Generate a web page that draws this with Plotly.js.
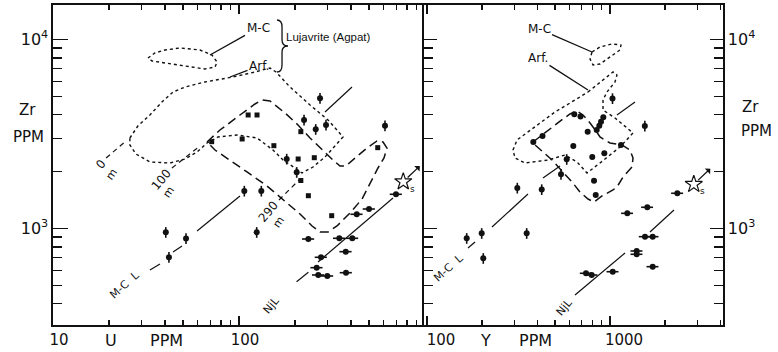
<!DOCTYPE html>
<html><head><meta charset="utf-8">
<script src="https://cdn.plot.ly/plotly-3.0.1.min.js"></script>
<style>html,body{margin:0;padding:0;background:#fff}</style>
</head><body>
<div id="chart" style="width:778px;height:352px"></div>
<script>
// ---------- LEFT PANEL: U (ppm) vs Zr (ppm) ----------
const leftSquareU  = [112, 125, 71.3, 104, 154, 215, 557, 208, 254, 215, 236, 315];
const leftSquareZr = [3986, 3986, 2880, 2976, 2743, 3253, 2677, 2332, 2369, 1795, 1491, 1169];
const leftVertU  = [272.6, 223.7, 293.6, 258.5, 609.4, 180.5, 204.3, 106.8, 131.8, 124.5, 40.4, 51.9, 42.0];
const leftVertZr = [4886, 3751, 3529, 3349, 3499, 2332, 1984, 1579, 1579, 954.8, 954.8, 885.1, 704.1];
const leftHorzU  = [429.4, 500.1, 698.5, 235.8, 346.1, 406.6, 374.8, 276, 261.6, 266.8, 298.4, 376.1];
const leftHorzZr = [1189, 1268, 1517, 879.7, 887.5, 887.5, 753.9, 704.1, 620.3, 567.5, 560.7, 583.6];
const leftStarU = [764];
const leftStarZr = [1769];

// trend lines (null = gap)
const leftMCL_U  = [33.2, 37.6, null, 44.2, 49.4, null, 59.5, 101.2, null, 290, 405];
const leftMCL_Zr = [603, 649, null, 751, 808, null, 970, 1486, null, 4134, 5606];
const leftNjL_U  = [204, 236, null, 266, 673];
const leftNjL_Zr = [523, 587, null, 665, 1450];
const depth0_U = [19.3, 24.7],  depth0_Zr = [2361, 2904];
const depth100_U = [43.6, 61.7], depth100_Zr = [2090, 2733];
const depth290_U = [164, 213],  depth290_Zr = [1415, 1828];

// Lujavrite fields (left)
const leftMC_U  = [32.4, 35.3, 40, 48.2, 61.7, 71.6, 76.2, 74.3, 65.6, 51.3, 40, 34.1, 32.4];
const leftMC_Zr = [7985, 8484, 8800, 9016, 8800, 8279, 7603, 7154, 6982, 7242, 7510, 7695, 7985];
const leftArf_U  = [25.9, 28.6, 33.2, 38.5, 44.2, 51.3, 65.6, 92.8, 121.9, 146.8, 158.1, 188, 240.9, 301, 362.4, 328.2, 290, 249.9, 218.1, 200, 172.4, 152.3, 125, 97.5, 77.1, 67.3, 59.5, 51.3, 42.6, 33.2, 27.9, 25.9, 25.9];
const leftArf_Zr = [3012, 3486, 3986, 4670, 5276, 5606, 5960, 6334, 6730, 7068, 6730, 5606, 4502, 3751, 3049, 2732, 2389, 2115, 1967, 2090, 2303, 2602, 3012, 3124, 3049, 2834, 2540, 2332, 2221, 2248, 2478, 2766, 3012];
// dashed sample field (left)
const leftField_U  = [67.3, 79.0, 101.2, 121.9, 133.0, 146.8, 176.8, 207.6, 240.9, 279.4, 320.2, 349.2, 376, 420.5, 487.6, 551.9, 594.7, 624.7, 602, 558.8, 518.8, 458.5, 395.3, 336.5, 301, 272.6, 247, 212.8, 181.2, 141.4, 110.4, 89.5, 74.3, 67.3];
const leftField_Zr = [2869, 3320, 3986, 4558, 4786, 4727, 4084, 3529, 3012, 2602, 2303, 2141, 2141, 2360, 2666, 2904, 2869, 2666, 2360, 2090, 1806, 1432, 1208, 1031, 958, 958, 1031, 1193, 1364, 1679, 1991, 2303, 2602, 2869];

// ---------- RIGHT PANEL: Y (ppm) vs Zr (ppm) ----------
const rightDotY  = [381, 427.8, 638.1, 690, 755.2, 845.9, 874, 893.1, 919.2, 630.2, 1148, 800.1, 930.9, 817.9, 835.5];
const rightDotZr = [2869, 3086, 4019, 3913, 3253, 3320, 3499, 3674, 3876, 2733, 2766, 2389, 2500, 1790, 1504];
const rightVertY  = [1032, 1550, 580, 539.8, 311.5, 423.6, 164.8, 199, 203, 350.5];
const rightVertZr = [4874, 3486, 2323, 1936, 1638, 1608, 887.5, 943, 695.5, 943];
const rightHorzY  = [1243, 1599, 2333, 739.4, 794.3, 1035, 1399, 1399, 1553, 1711, 1711];
const rightHorzZr = [1203, 1295, 1536, 579.4, 567.5, 590.7, 760.3, 730.4, 905, 905, 627.9];
const rightStarY = [2870];
const rightStarZr = [1714];

const rightMCL_Y  = [167.5, 183, null, 226.6, 356.3, null, 430.4, 533.1, null, 1092, 1370];
const rightMCL_Zr = [788.4, 848.4, null, 1018, 1522, null, 1850, 2141, null, 3986, 4670];
const rightNjL_Y  = [643.8, 1208, null, 1654, 2237];
const rightNjL_Zr = [444.7, 742, null, 958.3, 1253];

const rightMC_Y  = [797.5, 881.8, 1025.4, 1148, 1134, 1000, 881.8, 807.6, 777.8, 797.5];
const rightMC_Zr = [8590, 9127, 9467, 9352, 8800, 8080, 7420, 7330, 7884, 8590];
const rightArf_Y  = [758.1, 881.8, 975, 1038.5, 1092, 1065, 963, 915.9, 915.9, 1065, 1336, 1134, 881.8, 748.6, 660.2, 567.7, 458.3, 343.1, 302.7, 295.1, 310.4, 389.3, 500.6, 643.8, 758.1];
const rightArf_Zr = [5276, 5960, 6411, 6730, 6490, 5960, 5276, 4786, 4236, 3843, 3201, 2699, 2221, 1967, 2248, 2448, 2303, 2221, 2360, 2602, 2940, 3444, 4134, 4786, 5276];
const rightField_Y  = [379.6, 452.6, 553.6, 604.6, 660.2, 711.9, 777.8, 838.6, 881.8, 1000, 1163, 1286, 1336, 1319, 1178, 1092, 1038.5, 904.3, 817.9, 758.1, 685.6, 620, 553.6, 482, 430.4, 389.3, 379.6];
const rightField_Zr = [2869, 3280, 3797, 4035, 4185, 3986, 3616, 3280, 3049, 2834, 2766, 2602, 2360, 2115, 1873, 1658, 1599, 1486, 1381, 1432, 1560, 1762, 1991, 2303, 2540, 2766, 2869];

// tick labels
const zrTickVals = [1000, 10000];
const zrTickText = ['10<sup>3</sup>', '10<sup>4</sup>'];
const uTickVals = [10, 100];
const uTickText = ['10', '100'];
const yTickVals = [100, 1000];
const yTickText = ['100', '1000'];

// ---------- styling / helpers ----------
const FONT = 'DejaVu Sans, sans-serif';
const W = 778, H = 352;
const px = v => v / W, py = v => 1 - v / H;
const black = '#111';

function pts(x, y, xa, ya, symbol, size, extra) {
  return Object.assign({type:'scatter', mode:'markers', x, y, xaxis:xa, yaxis:ya,
    marker:{symbol, size, color:black, line:{width:0}}, hoverinfo:'skip'}, extra || {});
}
function line(x, y, xa, ya, dash, width) {
  return {type:'scatter', mode:'lines', x, y, xaxis:xa, yaxis:ya,
    line:{color:black, width:width||1.2, dash:dash||'solid'}, connectgaps:false, hoverinfo:'skip'};
}
const vErr = {error_y:{type:'percent', value:6.5, width:0, thickness:1.6, color:black}};
const hErr = {error_x:{type:'percent', value:7.5, width:0, thickness:1.6, color:black}};
const FIELD_DASH = '9px,5px';
const DEPTH_DASH = '5px,4px';

const traces = [
  // left panel
  line(leftMC_U, leftMC_Zr, 'x', 'y', 'dot', 1.4),
  line(leftArf_U, leftArf_Zr, 'x', 'y', 'dot', 1.4),
  line(leftField_U, leftField_Zr, 'x', 'y', FIELD_DASH, 1.5),
  line(leftMCL_U, leftMCL_Zr, 'x', 'y', 'solid', 1.2),
  line(leftNjL_U, leftNjL_Zr, 'x', 'y', 'solid', 1.2),
  line(depth0_U, depth0_Zr, 'x', 'y', DEPTH_DASH, 1.2),
  line(depth100_U, depth100_Zr, 'x', 'y', DEPTH_DASH, 1.2),
  line(depth290_U, depth290_Zr, 'x', 'y', DEPTH_DASH, 1.2),
  pts(leftSquareU, leftSquareZr, 'x', 'y', 'square', 5),
  pts(leftVertU, leftVertZr, 'x', 'y', 'circle', 6, vErr),
  pts(leftHorzU, leftHorzZr, 'x', 'y', 'circle', 6, hErr),
  {type:'scatter', mode:'markers', x:leftStarU, y:leftStarZr, xaxis:'x', yaxis:'y',
   marker:{symbol:'star-open', size:13, color:black, line:{width:1.2, color:black}}, hoverinfo:'skip'},
  // right panel
  line(rightMC_Y, rightMC_Zr, 'x2', 'y2', 'dot', 1.4),
  line(rightArf_Y, rightArf_Zr, 'x2', 'y2', 'dot', 1.4),
  line(rightField_Y, rightField_Zr, 'x2', 'y2', FIELD_DASH, 1.5),
  line(rightMCL_Y, rightMCL_Zr, 'x2', 'y2', 'solid', 1.2),
  line(rightNjL_Y, rightNjL_Zr, 'x2', 'y2', 'solid', 1.2),
  pts(rightDotY, rightDotZr, 'x2', 'y2', 'circle', 6),
  pts(rightVertY, rightVertZr, 'x2', 'y2', 'circle', 6, vErr),
  pts(rightHorzY, rightHorzZr, 'x2', 'y2', 'circle', 6, hErr),
  {type:'scatter', mode:'markers', x:rightStarY, y:rightStarZr, xaxis:'x2', yaxis:'y2',
   marker:{symbol:'star-open', size:13, color:black, line:{width:1.2, color:black}}, hoverinfo:'skip'}
];

const zrMinor = [400,500,600,700,800,900,2000,3000,4000,5000,6000,7000,8000,9000];
const axBase = {type:'log', showgrid:false, zeroline:false, showline:true, linecolor:black, linewidth:1.6,
  ticks:'inside', tickcolor:black, tickwidth:1.4, tickfont:{family:FONT, size:16, color:black}};

const layout = {
  width:W, height:H, margin:{l:0, r:0, t:0, b:0},
  paper_bgcolor:'#fff', plot_bgcolor:'#fff', showlegend:false,
  xaxis: Object.assign({}, axBase, {domain:[53/W, 424/W], range:[1, 2.9946], anchor:'y', mirror:'ticks',
    tickmode:'array', tickvals:uTickVals, ticktext:uTickText, ticklen:9, ticklabelshift:6, ticklabelstandoff:0,
    tickfont:{family:FONT, size:15, color:black},
    minor:{tickmode:'array', tickvals:[20,30,40,50,60,70,80,90,200,300,400,500,600,700,800,900], ticklen:5, ticks:'inside', tickcolor:black, tickwidth:1.2}}),
  xaxis2: Object.assign({}, axBase, {domain:[424/W, 723/W], range:[1.9836, 3.6175], anchor:'y2', mirror:'ticks',
    tickmode:'array', tickvals:yTickVals, ticktext:yTickText, ticklen:9, ticklabelshift:14, ticklabelstandoff:0,
    tickfont:{family:FONT, size:15, color:black},
    minor:{tickmode:'array', tickvals:[200,300,400,500,600,700,800,900,2000,3000,4000], ticklen:5, ticks:'inside', tickcolor:black, tickwidth:1.2}}),
  yaxis: Object.assign({}, axBase, {domain:[27/H, 347/H], range:[2.4894, 4.1825], anchor:'x',
    tickmode:'array', tickvals:zrTickVals, ticktext:zrTickText, ticklen:15,
    minor:{tickmode:'array', tickvals:zrMinor, ticklen:9, ticks:'inside', tickcolor:black, tickwidth:1.4}}),
  yaxis2: Object.assign({}, axBase, {domain:[27/H, 347/H], range:[2.4894, 4.1825], anchor:'x2', side:'right', mirror:'ticks',
    tickmode:'array', tickvals:zrTickVals, ticktext:zrTickText, ticklen:13,
    minor:{tickmode:'array', tickvals:zrMinor, ticklen:9, ticks:'inside', tickcolor:black, tickwidth:1.4}}),
  annotations: [],
  shapes: []
};

function txt(text, x, y, size, opts) {
  layout.annotations.push(Object.assign({text, x:px(x), y:py(y), xref:'paper', yref:'paper', showarrow:false,
    font:{family:FONT, size:size, color:black}, xanchor:'center', yanchor:'middle'}, opts || {}));
}
function leader(text, tx, ty, hx, hy, size) {
  layout.annotations.push({text, x:px(hx), y:py(hy), xref:'paper', yref:'paper', showarrow:true,
    arrowhead:0, arrowwidth:1.3, arrowcolor:black, ax:tx-hx, ay:ty-hy, axref:'pixel', ayref:'pixel',
    font:{family:FONT, size:size, color:black}});
}
// axis titles
txt('Zr', 27, 110, 15); txt('PPM', 28, 137, 15);
txt('Zr', 750, 107, 15); txt('PPM', 756, 131, 15);
txt('U', 111, 340, 16); txt('PPM', 166, 340, 16);
txt('Y', 486, 340, 16); txt('PPM', 535, 340, 16);
// field labels
leader('M-C', 258, 28, 210, 55, 12);
leader('Arf.', 259, 66, 230, 77, 12);
txt('Lujavrite (Agpat)', 328, 37, 11, {font:{family:'Liberation Sans, sans-serif', size:11.5, color:black}});
leader('M-C', 539, 29, 592, 52, 12);
leader('Arf.', 538, 58, 588, 90, 12);
// line labels
txt('M-C  L', 124, 285, 11, {textangle:-42});
txt('NjL', 271, 305, 11, {textangle:-50});
txt('M-C  L', 448, 268, 11, {textangle:-42});
txt('NjL', 564, 307, 11, {textangle:-50});
txt('0', 101, 164, 12, {textangle:-50});
txt('m', 112, 175, 11, {textangle:-55});
txt('100', 161, 180, 12, {textangle:-50});
txt('m', 168, 192, 11, {textangle:-55});
txt('290', 268, 212, 12, {textangle:-50});
txt('m', 278, 222, 11, {textangle:-55});
// stars: arrows and subscript
[['x','y',leftStarU[0],leftStarZr[0]],['x2','y2',rightStarY[0],rightStarZr[0]]].forEach(([xa,ya,xv,yv]) => {
  layout.annotations.push({text:'', x:Math.log10(xv), y:Math.log10(yv), xref:xa, yref:ya, showarrow:true,
    arrowside:'start', arrowhead:2, arrowsize:1, arrowwidth:1.3, arrowcolor:black, ax:18, ay:-17, standoff:6});
  layout.annotations.push({text:'s', x:Math.log10(xv), y:Math.log10(yv), xref:xa, yref:ya, showarrow:false,
    xshift:9, yshift:-7, font:{family:FONT, size:9, color:black}});
});
// brace
const bx = v => px(v).toFixed(4), by = v => py(v).toFixed(4);
layout.shapes.push({type:'path', xref:'paper', yref:'paper', line:{color:black, width:1.3},
  path:`M${bx(277)},${by(20)} Q${bx(282)},${by(20)} ${bx(282)},${by(27)} L${bx(282)},${by(40)} Q${bx(282)},${by(46)} ${bx(288)},${by(46)} Q${bx(282)},${by(46)} ${bx(282)},${by(52)} L${bx(282)},${by(65)} Q${bx(282)},${by(72)} ${bx(277)},${by(72)}`});

Plotly.newPlot('chart', traces, layout, {staticPlot:true, displayModeBar:false});
</script>
</body></html>
